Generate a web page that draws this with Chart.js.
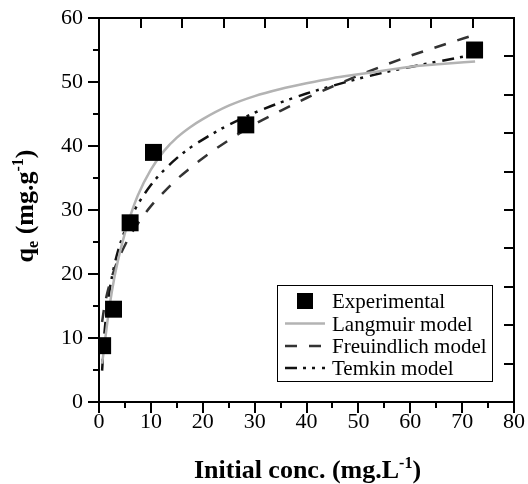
<!DOCTYPE html>
<html>
<head>
<meta charset="utf-8">
<script src="https://cdn.jsdelivr.net/npm/chart.js@4.4.0/dist/chart.umd.min.js"></script>
<style>
  html, body { margin: 0; padding: 0; background: #fff; }
  #wrap { width: 528px; height: 484px; }
</style>
</head>
<body>
<div id="wrap"><canvas id="c" width="528" height="484"></canvas></div>
<script>
// ---- data ----
const expX = [0.7, 2.8, 6.0, 10.5, 28.3, 72.4];
const expY = [8.8, 14.5, 28.0, 39.0, 43.3, 55.0];

const modelX      = [0.6, 1, 1.5, 2, 3, 4, 5, 6, 7.5, 10, 12.5, 15, 17.5, 20, 25, 30, 35, 40, 45, 50, 55, 60, 66, 72.5];
const langmuirY   = [6.0, 8.5, 11.8, 14.8, 19.6, 23.3, 26.4, 29.0, 32.3, 36.3, 39.2, 41.3, 42.9, 44.2, 46.3, 47.8, 48.9, 49.8, 50.6, 51.2, 51.8, 52.4, 52.8, 53.2];
const freundlichY = [12.5, 14.7, 16.7, 18.3, 20.8, 22.8, 24.5, 26.0, 27.9, 30.6, 32.8, 34.8, 36.5, 38.1, 40.9, 43.4, 45.5, 47.5, 49.3, 51.0, 52.6, 54.1, 55.7, 57.4];
const temkinY     = [4.9, 10.2, 14.4, 17.3, 21.5, 24.5, 26.8, 28.6, 30.9, 33.9, 36.2, 38.1, 39.7, 41.0, 43.3, 45.2, 46.8, 48.2, 49.4, 50.5, 51.5, 52.35, 53.3, 54.3];

const seriesNames = ['Experimental', 'Langmuir model', 'Freuindlich model', 'Temkin model'];
const xTitle = ['Initial conc. (mg.L', '-1', ')'];
const yTitle = ['q', 'e', ' (mg.g', '-1', ')'];

const X_MIN = 0, X_MAX = 80, X_STEP = 10, X_MINOR = 5, X_TOP_STEP = 8;
const Y_MIN = 0, Y_MAX = 60, Y_STEP = 10, Y_MINOR = 5, Y_RIGHT_STEP = 6;

const toPts = (xs, ys) => xs.map((x, i) => ({x: x, y: ys[i]}));

const SERIF = '"Liberation Serif", "Times New Roman", serif';

const styles = [
  {color: '#000000', dash: []},
  {color: '#b3b3b3', dash: []},
  {color: '#333333', dash: [12, 12]},
  {color: '#111111', dash: [12, 6, 3, 6, 3, 7]}
];

function drawRich(ctx, parts, x, y) {
  let total = 0;
  parts.forEach(p => { ctx.font = 'bold ' + p.size + 'px ' + SERIF; total += ctx.measureText(p.t).width; });
  let cx = x - total / 2;
  ctx.textAlign = 'left';
  ctx.textBaseline = 'alphabetic';
  parts.forEach(p => {
    ctx.font = 'bold ' + p.size + 'px ' + SERIF;
    ctx.fillText(p.t, cx, y + (p.dy || 0));
    cx += ctx.measureText(p.t).width;
  });
}

const decor = {
  id: 'decor',
  afterDraw(chart) {
    const ctx = chart.ctx;
    const a = chart.chartArea;
    const xs = chart.scales.x, ys = chart.scales.y;
    ctx.save();
    ctx.strokeStyle = '#000';
    ctx.fillStyle = '#000';
    ctx.lineWidth = 2;
    ctx.setLineDash([]);
    ctx.strokeRect(a.left, a.top, a.right - a.left, a.bottom - a.top);
    ctx.beginPath();
    for (let v = X_MIN; v <= X_MAX + 1e-9; v += X_MINOR) {
      const px = Math.round(xs.getPixelForValue(v));
      const len = (Math.abs(v % X_STEP) < 1e-9) ? 11 : 6;
      ctx.moveTo(px, a.bottom); ctx.lineTo(px, a.bottom + len);
    }
    for (let v = Y_MIN; v <= Y_MAX + 1e-9; v += Y_MINOR) {
      const py = Math.round(ys.getPixelForValue(v));
      const len = (Math.abs(v % Y_STEP) < 1e-9) ? 11 : 6;
      ctx.moveTo(a.left, py); ctx.lineTo(a.left - len, py);
    }
    for (let v = X_MIN + X_TOP_STEP; v < X_MAX; v += X_TOP_STEP) {
      const px = Math.round(xs.getPixelForValue(v));
      ctx.moveTo(px, a.top); ctx.lineTo(px, a.top + 10);
    }
    for (let v = Y_MIN + Y_RIGHT_STEP; v < Y_MAX; v += Y_RIGHT_STEP) {
      const py = Math.round(ys.getPixelForValue(v));
      ctx.moveTo(a.right, py); ctx.lineTo(a.right - 10, py);
    }
    ctx.stroke();

    drawRich(ctx, [
      {t: xTitle[0], size: 26}, {t: xTitle[1], size: 16, dy: -10}, {t: xTitle[2], size: 26}
    ], (a.left + a.right) / 2 + 1, 478);
    ctx.save();
    ctx.translate(33, (a.top + a.bottom) / 2 - 4);
    ctx.rotate(-Math.PI / 2);
    drawRich(ctx, [
      {t: yTitle[0], size: 26}, {t: yTitle[1], size: 16, dy: 5}, {t: yTitle[2], size: 26},
      {t: yTitle[3], size: 16, dy: -10}, {t: yTitle[4], size: 26}
    ], 0, 0);
    ctx.restore();

    const bx = 277, by = 285, bw = 215, bh = 96;
    ctx.fillStyle = '#fff';
    ctx.fillRect(bx, by, bw, bh);
    ctx.lineWidth = 1;
    ctx.strokeStyle = '#000';
    ctx.strokeRect(bx + 0.5, by + 0.5, bw, bh);
    const baselines = [308, 330.5, 353, 375];
    ctx.font = '21px ' + SERIF;
    ctx.textAlign = 'left';
    ctx.textBaseline = 'alphabetic';
    seriesNames.forEach((name, i) => {
      const yb = baselines[i];
      const yc = yb - 7;
      const st = styles[i];
      if (i === 0) {
        ctx.fillStyle = '#000';
        ctx.fillRect(297, yc - 8, 16, 16);
      } else {
        ctx.strokeStyle = st.color;
        ctx.lineWidth = 2.5;
        ctx.setLineDash(st.dash);
        ctx.beginPath();
        ctx.moveTo(285, yc); ctx.lineTo(325, yc);
        ctx.stroke();
        ctx.setLineDash([]);
      }
      ctx.fillStyle = '#000';
      ctx.fillText(name, 332, yb);
    });
    ctx.restore();
  }
};

const lineDs = (label, ys, st, w) => ({
  label: label,
  data: toPts(modelX, ys),
  showLine: true,
  borderColor: st.color,
  borderWidth: w,
  borderDash: st.dash,
  pointRadius: 0,
  pointHoverRadius: 0,
  fill: false,
  cubicInterpolationMode: 'monotone',
  borderCapStyle: 'butt'
});

new Chart(document.getElementById('c'), {
  type: 'scatter',
  data: {
    datasets: [
      {
        label: seriesNames[0],
        data: toPts(expX, expY),
        pointStyle: 'rect',
        pointRadius: 12,
        pointHoverRadius: 12,
        backgroundColor: '#000',
        borderColor: '#000',
        borderWidth: 0,
        showLine: false
      },
      lineDs(seriesNames[1], langmuirY, styles[1], 2.5),
      lineDs(seriesNames[2], freundlichY, styles[2], 2.5),
      lineDs(seriesNames[3], temkinY, styles[3], 2.5)
    ]
  },
  options: {
    responsive: false,
    animation: false,
    devicePixelRatio: 1,
    layout: { padding: { top: 18, right: 14, left: 0, bottom: 0 } },
    plugins: { legend: { display: false }, tooltip: { enabled: false } },
    scales: {
      x: {
        type: 'linear', min: X_MIN, max: X_MAX,
        ticks: { stepSize: X_STEP, color: '#000', padding: 0, font: { family: SERIF, size: 22 } },
        grid: { display: true, drawOnChartArea: false, drawTicks: true, tickLength: 7, tickColor: 'rgba(0,0,0,0)' },
        border: { display: false },
        afterFit(s) { s.height = 82; }
      },
      y: {
        type: 'linear', min: Y_MIN, max: Y_MAX,
        ticks: { stepSize: Y_STEP, color: '#000', padding: 4, font: { family: SERIF, size: 22 } },
        grid: { display: true, drawOnChartArea: false, drawTicks: true, tickLength: 12, tickColor: 'rgba(0,0,0,0)' },
        border: { display: false },
        afterFit(s) { s.width = 99; }
      }
    }
  },
  plugins: [decor]
});
</script>
</body>
</html>
